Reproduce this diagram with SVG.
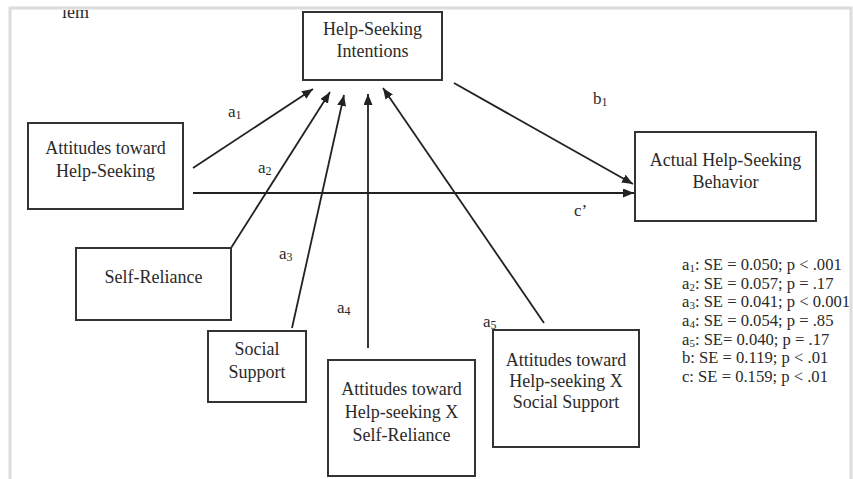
<svg xmlns="http://www.w3.org/2000/svg" width="853" height="479" viewBox="0 0 853 479">
<style>
.box{fill:#fff;stroke:#333;stroke-width:2}
.t{font-family:"Liberation Serif","Times New Roman",serif;font-size:18px;fill:#2a2a2a;text-anchor:middle}
.lbl{font-family:"Liberation Serif","Times New Roman",serif;font-size:17px;fill:#2a2a2a}
.st{font-family:"Liberation Serif","Times New Roman",serif;font-size:16.6px;fill:#2a2a2a}
.c{stroke:#222;stroke-width:1.8;fill:none;marker-end:url(#ah)}
.frame{stroke:#dcdcdc;stroke-width:3;fill:none}
</style>
<defs>
<marker id="ah" markerUnits="userSpaceOnUse" markerWidth="12" markerHeight="10" refX="11" refY="4.5" orient="auto">
<path d="M0,0 L11,4.5 L0,9 z" fill="#222"/>
</marker>
<clipPath id="clipTop"><rect x="0" y="10" width="853" height="469"/></clipPath>
</defs>
<rect width="853" height="479" fill="#fff"/>
<path class="frame" d="M10,479 L10,8 L851,8 L851,479"/>
<text class="lbl" x="62" y="18" clip-path="url(#clipTop)" style="font-size:18px">lem</text>

<g id="connectors">
<line class="c" x1="193" y1="168" x2="313" y2="89"/>
<line class="c" x1="231" y1="248" x2="330" y2="92"/>
<line class="c" x1="292" y1="328" x2="344" y2="95"/>
<line class="c" x1="368" y1="348" x2="368" y2="94"/>
<line class="c" x1="544" y1="323" x2="383" y2="88"/>
<line class="c" x1="454" y1="83" x2="633" y2="184"/>
<line class="c" x1="193" y1="193" x2="634" y2="193"/>
</g>

<g id="labels">
<text class="lbl" x="228" y="117">a<tspan font-size="12" dy="2">1</tspan></text>
<text class="lbl" x="258" y="173">a<tspan font-size="12" dy="2">2</tspan></text>
<text class="lbl" x="279" y="259">a<tspan font-size="12" dy="2">3</tspan></text>
<text class="lbl" x="337" y="313">a<tspan font-size="12" dy="2">4</tspan></text>
<text class="lbl" x="483" y="327">a<tspan font-size="12" dy="2">5</tspan></text>
<text class="lbl" x="593" y="104">b<tspan font-size="12" dy="2">1</tspan></text>
<text class="lbl" x="574" y="216">c’</text>
</g>

<g id="intentions">
<rect class="box" x="303" y="12" width="139" height="68"/>
<text class="t" x="372.5" y="35">Help-Seeking</text>
<text class="t" x="372.5" y="57">Intentions</text>
</g>
<g id="attitudes">
<rect class="box" x="28" y="123" width="155" height="86"/>
<text class="t" x="105.5" y="154">Attitudes toward</text>
<text class="t" x="105.5" y="177">Help-Seeking</text>
</g>
<g id="self-reliance">
<rect class="box" x="76" y="248" width="155" height="72"/>
<text class="t" x="153.5" y="283">Self-Reliance</text>
</g>
<g id="social-support">
<rect class="box" x="208" y="331" width="98" height="71"/>
<text class="t" x="257" y="355">Social</text>
<text class="t" x="257" y="378">Support</text>
</g>
<g id="att-x-sr">
<rect class="box" x="328" y="360" width="147" height="116"/>
<text class="t" x="401.5" y="395">Attitudes toward</text>
<text class="t" x="401.5" y="418">Help-seeking X</text>
<text class="t" x="401.5" y="441">Self-Reliance</text>
</g>
<g id="att-x-ss">
<rect class="box" x="493" y="330" width="146" height="117"/>
<text class="t" x="566" y="366">Attitudes toward</text>
<text class="t" x="566" y="387">Help-seeking X</text>
<text class="t" x="566" y="408">Social Support</text>
</g>
<g id="behavior">
<rect class="box" x="635" y="132" width="181" height="89"/>
<text class="t" x="725.5" y="166">Actual Help-Seeking</text>
<text class="t" x="725.5" y="188">Behavior</text>
</g>

<g id="stats">
<text class="st" x="682" y="270">a<tspan font-size="11" dy="2">1</tspan><tspan dy="-2">: SE = 0.050; p &lt; .001</tspan></text>
<text class="st" x="682" y="289">a<tspan font-size="11" dy="2">2</tspan><tspan dy="-2">: SE = 0.057; p = .17</tspan></text>
<text class="st" x="682" y="307">a<tspan font-size="11" dy="2">3</tspan><tspan dy="-2">: SE = 0.041; p &lt; 0.001</tspan></text>
<text class="st" x="682" y="326">a<tspan font-size="11" dy="2">4</tspan><tspan dy="-2">: SE = 0.054; p = .85</tspan></text>
<text class="st" x="682" y="345">a<tspan font-size="11" dy="2">5</tspan><tspan dy="-2">: SE= 0.040; p = .17</tspan></text>
<text class="st" x="682" y="363">b: SE = 0.119; p &lt; .01</text>
<text class="st" x="682" y="382">c: SE = 0.159; p &lt; .01</text>
</g>
</svg>
